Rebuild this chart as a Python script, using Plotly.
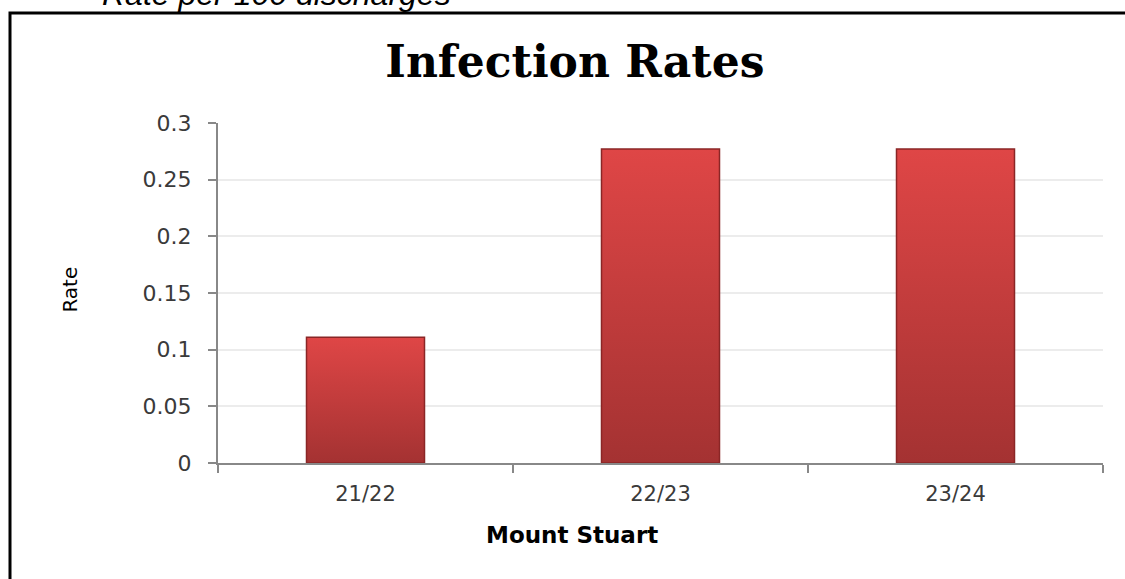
import plotly.graph_objects as go

# Infection rates per 100 discharges, Mount Stuart
years = ['21/22', '22/23', '23/24']
rates = [0.111, 0.277, 0.277]
y_ticks = [0, 0.05, 0.1, 0.15, 0.2, 0.25, 0.3]

BAR_COLOR = '#c23d3c'
BAR_EDGE = '#8a2626'
AXIS_GREY = '#888888'
GRID_GREY = '#ececec'
TEXT_GREY = '#3a3a3a'

fig = go.Figure()

fig.add_trace(
    go.Bar(
        x=years,
        y=rates,
        width=0.4,
        marker={"color": BAR_COLOR, "line": {"color": BAR_EDGE, "width": 1.5}},
        hovertemplate='%{x}: %{y:.3f}<extra></extra>'
    )
)

fig.update_layout(
    width=1125,
    height=579,
    paper_bgcolor='white',
    plot_bgcolor='white',
    showlegend=False,
    margin={"l": 218, "r": 22, "t": 123, "b": 116},
    title={
        "text": "<b>Infection Rates</b>",
        "font": {"family": "DejaVu Serif", "size": 44, "color": "black"},
        "xref": "container",
        "x": 0.511,
        "xanchor": "center",
        "yref": "container",
        "y": 0.893,
        "yanchor": "middle"
    },
    annotations=[
        # caption sitting above the frame, clipped by the top of the page
        dict(
            text="<i>Rate per 100 discharges</i>",
            xref="paper", yref="paper",
            x=(100 - 218) / 885, y=1.322,
            xanchor="left", yanchor="bottom",
            showarrow=False,
            font={"family": "Liberation Sans", "size": 32, "color": "black"}
        ),
        dict(
            text="Rate",
            xref="paper", yref="paper",
            x=(70 - 218) / 885, y=0.51,
            xanchor="center", yanchor="middle",
            textangle=-90,
            showarrow=False,
            font={"family": "DejaVu Sans", "size": 20, "color": "black"}
        ),
        dict(
            text="<b>Mount Stuart</b>",
            xref="paper", yref="paper",
            x=(572 - 218) / 885, y=(463 - 535) / 340,
            xanchor="center", yanchor="middle",
            showarrow=False,
            font={"family": "DejaVu Sans", "size": 23, "color": "black"}
        ),
    ],
    shapes=[
        # outer chart frame, running off the right and bottom of the page
        dict(
            type="rect", xref="paper", yref="paper",
            x0=(10 - 218) / 885, x1=1.2,
            y0=-0.6, y1=(463 - 13) / 340,
            line={"color": "black", "width": 3},
            fillcolor="rgba(0,0,0,0)",
            layer="above"
        )
    ]
)

fig.update_xaxes(
    showline=True,
    linecolor=AXIS_GREY,
    linewidth=2,
    ticks='outside',
    tickson='boundaries',
    ticklen=8,
    tickwidth=2,
    tickcolor=AXIS_GREY,
    ticklabelstandoff=11,
    tickfont={"family": "DejaVu Sans", "size": 21, "color": TEXT_GREY},
    showgrid=False
)

fig.update_yaxes(
    range=[0, 0.3],
    tickvals=y_ticks,
    ticktext=[f'{v:g}' for v in y_ticks],
    showline=True,
    linecolor=AXIS_GREY,
    linewidth=2,
    ticks='outside',
    ticklen=8,
    tickwidth=2,
    tickcolor=AXIS_GREY,
    ticklabelstandoff=12,
    tickfont={"family": "DejaVu Sans", "size": 22, "color": TEXT_GREY},
    showgrid=True,
    gridcolor=GRID_GREY,
    gridwidth=2,
    zeroline=False
)

# drop the page margin so the figure sits at the window's corner,
# and give the bars a top-to-bottom shading like the original
post_js = """
document.body.style.margin = '0';
var gd = document.getElementById('{plot_id}');
function shadeBars() {
    var svg = gd.querySelector('svg.main-svg');
    var ns = 'http://www.w3.org/2000/svg';
    if (!document.getElementById('barGrad')) {
        var defs = svg.querySelector('defs');
        var lg = document.createElementNS(ns, 'linearGradient');
        lg.setAttribute('id', 'barGrad');
        lg.setAttribute('x1', '0'); lg.setAttribute('y1', '0');
        lg.setAttribute('x2', '0'); lg.setAttribute('y2', '1');
        [['0', '#df4646'], ['1', '#a43232']].forEach(function (s) {
            var st = document.createElementNS(ns, 'stop');
            st.setAttribute('offset', s[0]);
            st.setAttribute('stop-color', s[1]);
            lg.appendChild(st);
        });
        defs.appendChild(lg);
    }
    gd.querySelectorAll('.bars .point path').forEach(function (p) {
        p.style.fill = 'url(#barGrad)';
    });
}
shadeBars();
gd.on('plotly_afterplot', shadeBars);
"""

fig.write_html("out.html", post_script=post_js, config={"displayModeBar": False})
